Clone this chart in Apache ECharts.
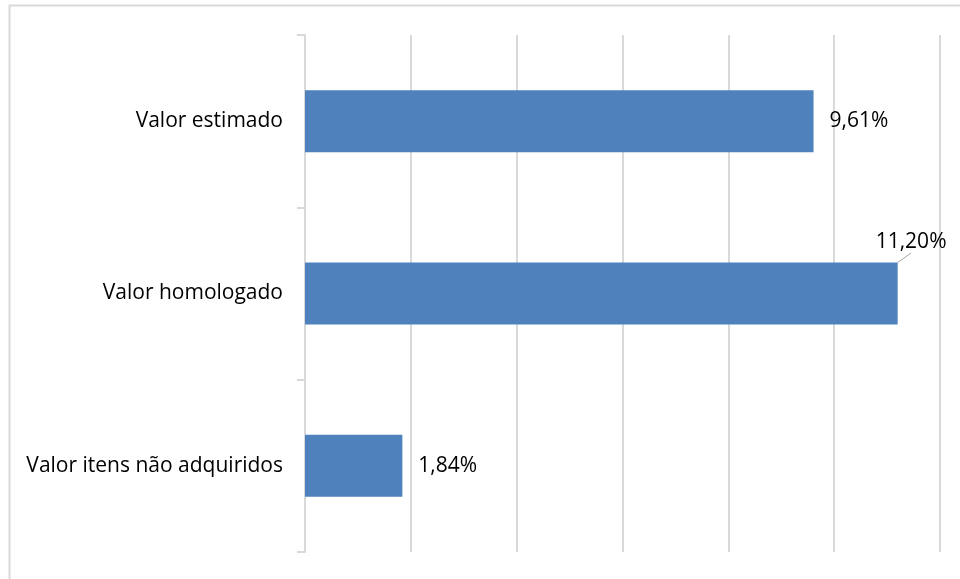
<!DOCTYPE html>
<html>
<head>
<meta charset="utf-8">
<script src="https://cdn.jsdelivr.net/npm/echarts@6/dist/echarts.min.js"></script>
<style>html,body{margin:0;padding:0;background:#fff}#c{width:960px;height:579px}</style>
</head>
<body>
<div id="c"></div>
<script>
var categories = ['Valor estimado', 'Valor homologado', 'Valor itens não adquiridos'];
var values = [9.61, 11.20, 1.84];
var labelTexts = ['9,61%', '11,20%', '1,84%'];
var axisMax = 12;
var axisInterval = 2;

var FONT = 'Open Sans';
var FS = 21;

var seriesData = values.map(function (v, i) {
  return { value: v, labelLine: { show: i === 1 } };
});

var chart = echarts.init(document.getElementById('c'));
chart.setOption({
  animation: false,
  backgroundColor: '#fff',
  graphic: [{
    type: 'rect',
    shape: { x: 9.5, y: 5.5, width: 1000, height: 1000 },
    style: { fill: 'none', stroke: '#d9d9d9', lineWidth: 2 },
    silent: true
  }],
  grid: { left: 305, right: 20, top: 35, bottom: 27, containLabel: false },
  xAxis: {
    type: 'value', min: 0, max: axisMax, interval: axisInterval,
    axisLabel: { show: false }, axisLine: { show: false }, axisTick: { show: false },
    splitLine: { show: true, lineStyle: { color: '#d9d9d9', width: 2 } }
  },
  yAxis: {
    type: 'category', data: categories, inverse: true,
    axisLine: { show: true, lineStyle: { color: '#d9d9d9', width: 2 } },
    axisTick: { show: true, length: 8, lineStyle: { color: '#d9d9d9', width: 2 } },
    axisLabel: { color: '#000', fontFamily: FONT, fontSize: FS, margin: 22 }
  },
  series: [{
    type: 'bar',
    data: seriesData,
    barWidth: 62,
    itemStyle: { color: '#4f81bd' },
    label: {
      show: true, position: 'right', distance: 16,
      color: '#000', fontFamily: FONT, fontSize: FS,
      formatter: function (p) { return labelTexts[p.dataIndex]; }
    },
    labelLine: { show: false, lineStyle: { color: '#a6a6a6', width: 1 } },
    labelLayout: function (p) {
      if (p.dataIndex === 1) { return { dx: -38, dy: -51 }; }
      return {};
    }
  }]
});
</script>
</body>
</html>
